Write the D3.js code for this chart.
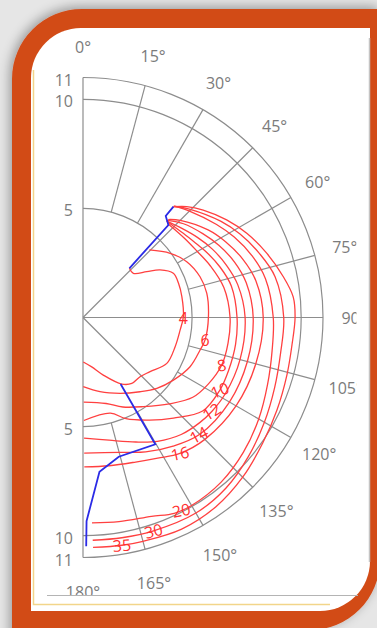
<!DOCTYPE html>
<html>
<head>
<meta charset="utf-8">
<script src="https://cdn.jsdelivr.net/npm/d3@7"></script>
<style>
  html, body { margin: 0; padding: 0; background: #e7e7e7; overflow: hidden; }
  svg { display: block; }
</style>
</head>
<body>
<svg id="chart" width="377" height="628"></svg>
<script>
// ---- data -------------------------------------------------------------
const angleTicks = [0, 15, 30, 45, 60, 75, 90, 105, 120, 135, 150, 165, 180];
const angleLabels = ["0°", "15°", "30°", "45°", "60°", "75°", "90°", "105°", "120°", "135°", "150°", "165°", "180°"];
const fullSpokes = [0, 45, 90, 135, 180];
const radiusTicks = [5, 10, 11];
const radiusLabels = ["5", "10", "11"];

const levels = [4, 6, 8, 10, 12, 14, 16, 20, 30, 35];

// contour lines as [angle (deg), radius]
const c4  = [[43.3,3.10],[48.7,3.07],[54.3,3.60],[58.3,4.15],[63.9,4.61],[70.3,4.65],[78.1,4.63],[89.5,4.60],[97.3,4.49],[107.6,4.43],[118.7,4.38],[128.9,3.95],[136.1,3.77],[143.5,3.76],[149.8,3.53],[160.6,2.80],[170,2.30],[179.6,2.04]];
const c6  = [[44.5,4.34],[53.6,4.96],[61.7,5.40],[70.8,5.68],[78.9,5.78],[89.6,5.75],[100.4,5.69],[105.5,5.57],[114.7,5.40],[124.7,5.04],[133.8,4.69],[142.5,4.29],[153.9,3.87],[167.1,3.49],[179.8,3.17]];
const c8  = [[42,5.8],[52,5.9],[60,6.05],[68,6.3],[78,6.6],[90,6.74],[100,6.75],[109,6.72],[118,6.5],[126,6.22],[135,5.6],[146,4.93],[156,4.49],[165,4.08],[179.5,3.88]];
const c10 = [[41,5.85],[50,6.0],[57,6.2],[62,6.4],[70,6.7],[78,6.95],[90,7.06],[100,7.1],[110,7.1],[118,7.1],[128,6.96],[138,6.2],[147,5.61],[157,5.04],[164,4.56],[179.5,4.72]];
const c12 = [[41,5.85],[48,6.1],[55,6.4],[62,6.7],[70,7.0],[78,7.25],[90,7.43],[105,7.45],[118,7.4],[126,7.31],[132,7.2],[140,7.0],[149,6.62],[157,6.2],[168,5.75],[179.5,5.53]];
const c14 = [[41,5.9],[47,6.3],[55,6.7],[62,7.05],[70,7.4],[78,7.65],[90,7.8],[105,7.8],[120,7.75],[135,7.57],[145,7.2],[155,6.8],[165,6.4],[179.5,6.22]];
const c16 = [[41,5.95],[45,6.3],[55,7.0],[62,7.4],[70,7.8],[78,8.1],[90,8.26],[105,8.2],[120,8.1],[135,7.9],[144.5,7.65],[152,7.3],[160,7.05],[170,6.9],[179.5,6.85]];
const c20 = [[39.3,6.6],[45,6.9],[55,7.45],[62,7.85],[70,8.25],[78,8.55],[90,8.72],[100,8.8],[110,9.0],[120,9.3],[130,9.6],[140,9.85],[150,9.95],[155,9.9],[161,9.64],[170,9.5],[177.5,9.42]];
const c30 = [[39.2,6.58],[45,7.0],[55,7.7],[62,8.15],[70,8.6],[78,9.0],[90,9.2],[100,9.2],[110,9.35],[120,9.6],[130,9.9],[140,10.2],[150,10.35],[161.7,10.3],[170,10.25],[177.5,10.22]];
const c35 = [[39.2,6.55],[43.1,6.96],[48.2,7.39],[55.8,7.96],[62.8,8.44],[70.7,8.92],[78.5,9.37],[84.4,9.68],[90,9.72],[97.5,9.66],[105.7,9.71],[115.5,9.85],[125,10.05],[135,10.35],[145,10.6],[155,10.7],[165,10.62],[170.3,10.59],[177.5,10.55]];
const contours = [c4, c6, c8, c10, c12, c14, c16, c20, c30, c35];

// angle along each contour where its level is written
const labelAngles = [90, 100.4, 109, 118, 126.2, 135.4, 144.5, 153, 161.7, 170.3];

// ridge lines (blue)
const ridgeUpper = [[43.3,3.10],[42.7,5.77],[39.2,6.0],[39.2,6.56]];
const ridgeLower = [[150.5,3.50],[150.3,6.69],[165.6,6.59],[173.9,7.11],[179.0,9.33],[179.2,10.49]];

// ---- drawing ----------------------------------------------------------
const svg = d3.select("#chart");
const defs = svg.append("defs");

const shadow = defs.append("filter").attr("id", "shadow")
  .attr("x", "-20%").attr("y", "-20%").attr("width", "140%").attr("height", "140%");
shadow.append("feGaussianBlur").attr("in", "SourceAlpha").attr("stdDeviation", 6);
shadow.append("feOffset").attr("dx", -2).attr("dy", -2).attr("result", "b");
shadow.append("feComponentTransfer").append("feFuncA").attr("type", "linear").attr("slope", 0.35);
const sm = shadow.append("feMerge");
sm.append("feMergeNode");
sm.append("feMergeNode").attr("in", "SourceGraphic");

// frame
svg.append("rect").attr("width", 377).attr("height", 628).attr("fill", "#e6e6e6");
svg.append("path")
  .attr("d", "M12,660 V79 A70,70 0 0 1 82,9 H380 V560 A70,70 0 0 1 310,630 V660 Z")
  .attr("fill", "#d24b18").attr("filter", "url(#shadow)");
svg.append("path")
  .attr("d", "M31,611 V78 A50,50 0 0 1 81,28 H370 V561 A50,50 0 0 1 320,611 Z")
  .attr("fill", "#ffffff");
svg.append("path").attr("d", "M33.5,70 V604.5 H330")
  .attr("fill", "none").attr("stroke", "#f2d58a").attr("stroke-width", 1.5);
svg.append("line").attr("x1", 369.5).attr("x2", 369.5).attr("y1", 38).attr("y2", 562)
  .attr("stroke", "#c4c4c4").attr("stroke-width", 1.5);
svg.append("line").attr("x1", 47).attr("x2", 358).attr("y1", 595.5).attr("y2", 595.5)
  .attr("stroke", "#b4b4b4").attr("stroke-width", 1.2);

defs.append("clipPath").attr("id", "plotclip")
  .append("rect").attr("x", 36).attr("y", 30).attr("width", 320.5).attr("height", 565);

const cx = 83, cy = 317.5;
const r = d3.scaleLinear().domain([0, 11]).range([0, 240]);
const a = d3.scaleLinear().domain([0, 360]).range([0, 2 * Math.PI]);

const g = svg.append("g").attr("clip-path", "url(#plotclip)")
  .append("g").attr("transform", `translate(${cx},${cy})`);

const gridColor = "#8d8d8d";
const textColor = "#7b7b7b";
const font = "'Open Sans', 'Noto Sans', sans-serif";

// circular grid (half circles)
radiusTicks.forEach(v => {
  const p = d3.path();
  p.arc(0, 0, r(v), -Math.PI / 2, Math.PI / 2);
  g.append("path").attr("d", p.toString())
    .attr("fill", "none").attr("stroke", gridColor).attr("stroke-width", 1.2);
});

// spokes
const spoke = d3.lineRadial().angle(d => a(d[0])).radius(d => r(d[1]));
angleTicks.forEach(t => {
  const inner = fullSpokes.includes(t) ? 0 : radiusTicks[0];
  g.append("path").attr("d", spoke([[t, inner], [t, 11]]))
    .attr("fill", "none").attr("stroke", gridColor).attr("stroke-width", 1.2);
});

// angle labels (pushed slightly further out on the lower half)
angleTicks.forEach((t, i) => {
  const th = a(t);
  const lr = r(11) + 31 + 3.5 * Math.max(0, -Math.cos(th));
  g.append("text")
    .attr("x", lr * Math.sin(th)).attr("y", -lr * Math.cos(th))
    .attr("text-anchor", "middle").attr("dominant-baseline", "central")
    .attr("font-family", font).attr("font-size", 16).attr("fill", textColor)
    .text(angleLabels[i]);
});

// radius labels on both ends of the vertical axis
radiusTicks.forEach((v, i) => {
  [-1, 1].forEach(s => {
    g.append("text")
      .attr("x", -10).attr("y", s * r(v) + 2)
      .attr("text-anchor", "end").attr("dominant-baseline", "central")
      .attr("font-family", font).attr("font-size", 16).attr("fill", textColor)
      .text(radiusLabels[i]);
  });
});

// contour lines
const contourLine = d3.lineRadial()
  .angle(d => a(d[0])).radius(d => r(d[1]))
  .curve(d3.curveCatmullRom.alpha(0.5));

contours.forEach(c => {
  g.append("path").attr("d", contourLine(c))
    .attr("fill", "none").attr("stroke", "#ff4040").attr("stroke-width", 1.3);
});

// blue ridge lines
const ridgeLine = d3.lineRadial().angle(d => a(d[0])).radius(d => r(d[1]));
[ridgeUpper, ridgeLower].forEach(rl => {
  g.append("path").attr("d", ridgeLine(rl))
    .attr("fill", "none").attr("stroke", "#2b2be6").attr("stroke-width", 1.8);
});

// contour level labels, placed on their line
function radiusAt(c, ang) {
  for (let i = 0; i < c.length - 1; i++) {
    const [a0, r0] = c[i], [a1, r1] = c[i + 1];
    if ((ang - a0) * (ang - a1) <= 0) {
      const t = a1 === a0 ? 0 : (ang - a0) / (a1 - a0);
      return r0 + t * (r1 - r0);
    }
  }
  return c[c.length - 1][1];
}
const labelTilt = [0, 0, -8, -22, -32, -28, -12, -12, -15, -5];
levels.forEach((lv, i) => {
  const ang = labelAngles[i];
  const rv = radiusAt(contours[i], ang);
  const th = a(ang);
  const x = r(rv) * Math.sin(th), y = -r(rv) * Math.cos(th);
  g.append("text")
    .attr("transform", `translate(${x},${y}) rotate(${labelTilt[i]})`)
    .attr("text-anchor", "middle").attr("dominant-baseline", "central")
    .attr("font-family", font).attr("font-size", 16).attr("fill", "#ff3030")
    .text(lv);
});
</script>
</body>
</html>
